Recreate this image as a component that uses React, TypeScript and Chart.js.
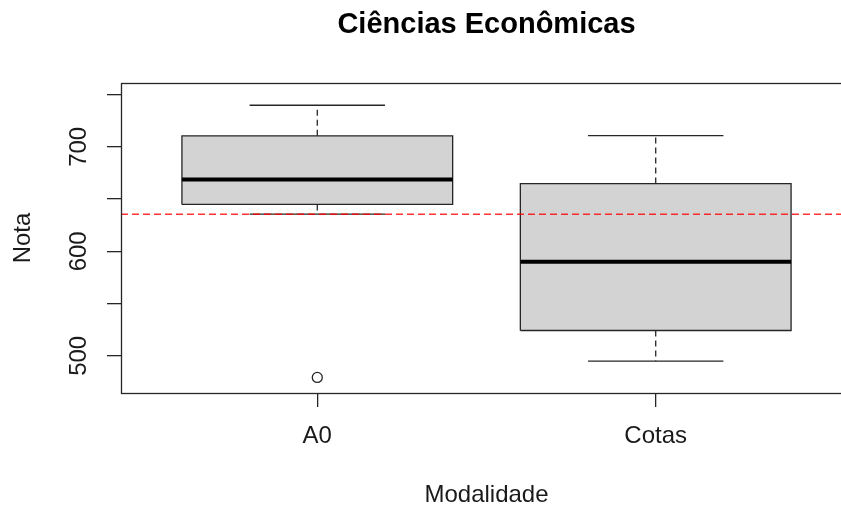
import React, { useEffect, useRef } from "react";
import { Chart, registerables } from "chart.js";

Chart.register(...registerables);

const titulo = "Ciências Econômicas";
const eixoX = "Modalidade";
const eixoY = "Nota";
const categorias = ["A0", "Cotas"];
const minimos = [635.6, 494.9];
const quartil1 = [644.9, 524.2];
const medianas = [668.8, 590.1];
const quartil3 = [710.5, 664.8];
const maximos = [739.8, 710.8];
const outliers = [[479.3], []];
const referencia = 635.6;
const yTicks = [500, 550, 600, 650, 700, 750];
const yLabels = [500, 600, 700];
const yMin = 464.4;
const yMax = 761.1;
const xMin = 0.42;
const xMax = 2.58;

const FONT = "'Liberation Sans', Arial, sans-serif";
const INK = "#1a1a1a";
const LINE = "#262626";

export default function App() {
  const ref = useRef<HTMLCanvasElement | null>(null);

  useEffect(() => {
    const canvas = ref.current;
    if (!canvas) return;
    const datasets: any[] = [];
    const boxHalf = 0.4;
    const capHalf = 0.2;

    datasets.push({
      data: [
        { x: xMin, y: referencia },
        { x: xMax, y: referencia },
      ],
      showLine: true,
      borderColor: "rgba(255,0,0,0.8)",
      borderWidth: 1.5,
      borderDash: [7, 4],
      pointRadius: 0,
      order: 0,
    });

    categorias.forEach((_, i) => {
      const c = i + 1;
      datasets.push({
        data: [
          { x: c - boxHalf, y: medianas[i] },
          { x: c + boxHalf, y: medianas[i] },
        ],
        showLine: true,
        borderColor: "#000",
        borderWidth: 4,
        pointRadius: 0,
        order: 1,
      });
      datasets.push({
        data: [
          { x: c, y: quartil3[i] },
          { x: c, y: maximos[i] },
        ],
        showLine: true,
        borderColor: LINE,
        borderWidth: 1.3,
        borderDash: [6, 4],
        pointRadius: 0,
        order: 2,
      });
      datasets.push({
        data: [
          { x: c, y: quartil1[i] },
          { x: c, y: minimos[i] },
        ],
        showLine: true,
        borderColor: LINE,
        borderWidth: 1.3,
        borderDash: [6, 4],
        pointRadius: 0,
        order: 2,
      });
      datasets.push({
        data: [
          { x: c - capHalf, y: maximos[i] },
          { x: c + capHalf, y: maximos[i] },
        ],
        showLine: true,
        borderColor: LINE,
        borderWidth: 1.3,
        pointRadius: 0,
        order: 2,
      });
      datasets.push({
        data: [
          { x: c - capHalf, y: minimos[i] },
          { x: c + capHalf, y: minimos[i] },
        ],
        showLine: true,
        borderColor: LINE,
        borderWidth: 1.3,
        pointRadius: 0,
        order: 2,
      });
      datasets.push({
        data: outliers[i].map((v) => ({ x: c, y: v })),
        showLine: false,
        pointRadius: 5,
        pointBorderWidth: 1.3,
        pointBorderColor: LINE,
        pointBackgroundColor: "rgba(0,0,0,0)",
        order: 2,
      });
      datasets.push({
        data: [
          { x: c - boxHalf, y: quartil1[i] },
          { x: c - boxHalf, y: quartil3[i] },
          { x: c + boxHalf, y: quartil3[i] },
          { x: c + boxHalf, y: quartil1[i] },
          { x: c - boxHalf, y: quartil1[i] },
        ],
        showLine: true,
        fill: "shape",
        backgroundColor: "#d3d3d3",
        borderColor: LINE,
        borderWidth: 1.3,
        pointRadius: 0,
        tension: 0,
        order: 3,
      });
    });

    const framePlugin = {
      id: "frame",
      afterDraw(chart: any) {
        const { ctx, chartArea } = chart;
        ctx.save();
        ctx.strokeStyle = LINE;
        ctx.lineWidth = 1.3;
        ctx.strokeRect(
          chartArea.left + 0.5,
          chartArea.top + 0.5,
          chartArea.right - chartArea.left,
          chartArea.bottom - chartArea.top
        );
        ctx.restore();
      },
    };

    const chart = new Chart(canvas, {
      type: "scatter",
      data: { datasets },
      options: {
        animation: false,
        responsive: false,
        maintainAspectRatio: false,
        devicePixelRatio: 1,
        layout: { padding: { top: 0, left: 0, right: 28, bottom: 0 } },
        plugins: {
          legend: { display: false },
          tooltip: { enabled: false },
          title: {
            display: true,
            text: titulo,
            fullSize: false,
            color: "#000",
            font: { family: FONT, size: 29, weight: "bold", lineHeight: 1 },
            padding: { top: 10.5, bottom: 43.5 },
          },
        },
        scales: {
          x: {
            type: "linear",
            min: xMin,
            max: xMax,
            afterBuildTicks: (s: any) => {
              s.ticks = categorias.map((_, i) => ({ value: i + 1 }));
            },
            afterFit: (s: any) => {
              s.height = 117;
            },
            border: { display: false },
            grid: {
              drawOnChartArea: false,
              drawTicks: true,
              tickLength: 14,
              color: LINE,
              lineWidth: 1.3,
            },
            ticks: {
              autoSkip: false,
              maxRotation: 0,
              padding: 15,
              color: INK,
              font: { family: FONT, size: 24 },
              callback: (v: any) => categorias[Math.round(Number(v)) - 1] ?? "",
            },
            title: {
              display: true,
              text: eixoX,
              color: INK,
              font: { family: FONT, size: 24, lineHeight: 1 },
              padding: { top: 0, bottom: 3 },
            },
          },
          y: {
            type: "linear",
            min: yMin,
            max: yMax,
            afterBuildTicks: (s: any) => {
              s.ticks = yTicks.map((v) => ({ value: v }));
            },
            afterFit: (s: any) => {
              s.width = 121;
            },
            border: { display: false },
            grid: {
              drawOnChartArea: false,
              drawTicks: true,
              tickLength: 14,
              color: LINE,
              lineWidth: 1.3,
            },
            ticks: {
              autoSkip: false,
              minRotation: 90,
              maxRotation: 90,
              crossAlign: "center",
              padding: 8,
              color: INK,
              font: { family: FONT, size: 24 },
              callback: (v: any) =>
                yLabels.includes(Number(v)) ? String(v) : "",
            },
            title: {
              display: true,
              text: eixoY,
              color: INK,
              font: { family: FONT, size: 24, lineHeight: 1 },
              padding: { top: 11, bottom: 0 },
            },
          },
        },
      } as any,
      plugins: [framePlugin],
    });
    return () => chart.destroy();
  }, []);

  return (
    <div
      style={{
        position: "fixed",
        left: 0,
        top: 0,
        width: 841,
        height: 510,
        overflow: "hidden",
        background: "#fff",
      }}
    >
      <canvas ref={ref} width={880} height={510} style={{ display: "block" }} />
    </div>
  );
}
